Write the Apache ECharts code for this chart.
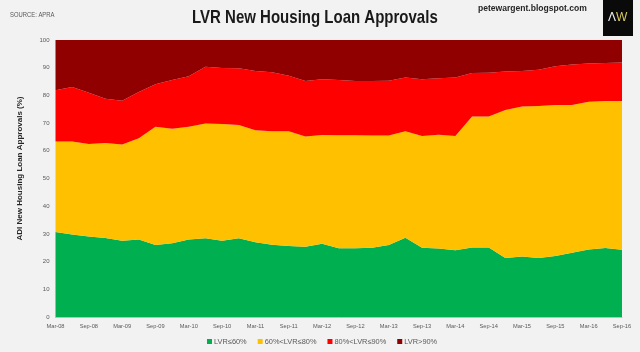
<!DOCTYPE html>
<html><head><meta charset="utf-8">
<style>html,body{margin:0;padding:0;background:#f2f2f2}#c{width:640px;height:352px}</style>
<script src="https://cdn.jsdelivr.net/npm/echarts@6/dist/echarts.min.js"></script>
</head><body><div id="c"></div>
<script>
const categories = [
 'Mar-08','Jun-08','Sep-08','Dec-08','Mar-09','Jun-09','Sep-09','Dec-09','Mar-10','Jun-10','Sep-10','Dec-10',
 'Mar-11','Jun-11','Sep-11','Dec-11','Mar-12','Jun-12','Sep-12','Dec-12','Mar-13','Jun-13','Sep-13','Dec-13',
 'Mar-14','Jun-14','Sep-14','Dec-14','Mar-15','Jun-15','Sep-15','Dec-15','Mar-16','Jun-16','Sep-16'];
const lvr60 = [30.7,29.8,29.1,28.5,27.5,28.0,26.0,26.6,28.0,28.4,27.5,28.4,27.0,26.1,25.6,25.4,26.4,24.8,24.8,25.0,26.0,28.6,25.0,24.7,24.1,25.1,25.1,21.3,21.8,21.3,22.0,23.2,24.4,24.9,24.3];
const lvr80 = [32.7,33.6,33.4,34.3,34.8,36.5,42.7,41.4,40.7,41.5,42.2,40.9,40.4,41.0,41.5,39.8,39.3,40.8,40.8,40.5,39.5,38.5,40.3,41.1,41.2,47.3,47.3,53.4,54.2,54.9,54.5,53.3,53.3,53.1,53.7];
const lvr90 = [18.5,19.6,18.5,16.0,15.8,16.7,15.3,17.6,18.2,20.4,20.2,20.5,21.4,21.3,20.0,20.0,20.1,20.0,19.6,19.7,19.8,19.4,20.5,20.4,21.2,15.7,15.8,13.9,12.8,13.1,14.0,14.7,13.8,13.7,13.9];
const lvrOver = [18.1,17.0,19.0,21.2,21.9,18.8,16.0,14.4,13.1,9.7,10.1,10.2,11.2,11.6,12.9,14.8,14.2,14.4,14.8,14.8,14.7,13.5,14.2,13.8,13.5,11.9,11.8,11.4,11.2,10.7,9.5,8.8,8.5,8.3,8.1];
const names = ['LVR≤60%','60%<LVR≤80%','80%<LVR≤90%','LVR>90%'];
const colors = ['#00b050','#ffc000','#ff0000','#900000'];
const values = [lvr60,lvr80,lvr90,lvrOver];
const sans = '"Liberation Sans", Arial, sans-serif';
const chart = echarts.init(document.getElementById('c'), null, {renderer:'canvas'});
chart.setOption({
  animation:false,
  backgroundColor:'#f2f2f2',
  grid:{left:55.5,right:18,top:40,bottom:35,containLabel:false},
  graphic:[
    {type:'text',x:192,y:8,scaleX:0.79,z:5,style:{text:'LVR New Housing Loan Approvals',fontFamily:sans,fontSize:19,fontWeight:'bold',fill:'#1a1a1a'}},
    {type:'text',x:10,y:12,scaleX:0.84,style:{text:'SOURCE: APRA',fontFamily:sans,fontSize:7,fill:'#595959'}},
    {type:'text',x:478,y:3,scaleX:0.9,style:{text:'petewargent.blogspot.com',fontFamily:sans,fontSize:9.5,fontWeight:'bold',fill:'#262626'}},
    {type:'rect',x:603,y:0,shape:{width:30,height:36},style:{fill:'#0a0a0a'}},
    {type:'text',x:608,y:12,z:5,style:{text:'Λ',fontFamily:sans,fontSize:12,fill:'#f2f2f2'}},
    {type:'text',x:616,y:12,z:5,style:{text:'W',fontFamily:sans,fontSize:12,fill:'#d8c860'}}
  ],
  legend:{bottom:2,left:202,itemWidth:5,itemHeight:5,itemGap:11,icon:'rect',
    textStyle:{fontFamily:sans,fontSize:7.4,color:'#595959',padding:[0,0,0,-3]},data:names},
  xAxis:{type:'category',boundaryGap:false,data:categories,
    axisLine:{show:true,lineStyle:{color:'#92d8a0'}},axisTick:{show:false},
    axisLabel:{interval:1,showMaxLabel:true,fontFamily:sans,fontSize:5.7,color:'#595959',margin:6},splitLine:{show:false}},
  yAxis:{type:'value',min:0,max:100,interval:10,
    name:'ADI New Housing Loan Approvals (%)',nameLocation:'middle',nameGap:32,
    nameTextStyle:{fontFamily:sans,fontSize:8,fontWeight:'bold',color:'#262626',padding:[0,0,0,20]},
    axisLine:{show:false},axisTick:{show:false},splitLine:{show:false},
    axisLabel:{fontFamily:sans,fontSize:6,color:'#595959',margin:6}},
  series:names.map((n,i)=>({name:n,type:'line',stack:'t',data:values[i],symbol:'none',smooth:false,
    lineStyle:{width:0},areaStyle:{color:colors[i],opacity:1},itemStyle:{color:colors[i]}}))
});
</script></body></html>
